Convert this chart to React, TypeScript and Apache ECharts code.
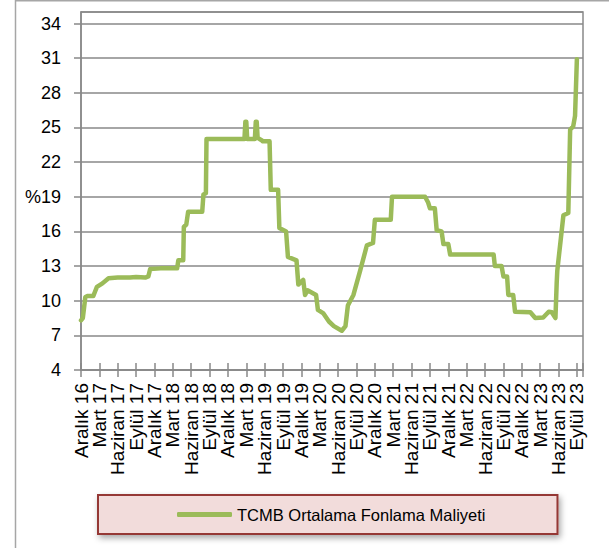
import React, { useEffect, useRef } from "react";
import * as echarts from "echarts";

// Month index: 0 = Aralık 2016 (December 2016)
const months: number[] = [
  0, 0.3, 0.5, 0.7, 1.0, 2.0, 2.3, 2.6, 3.5, 4.5, 6, 8, 9, 10.5, 11.0, 11.3, 13, 15.7, 15.9, 16.7,
  16.8, 17.2, 17.5, 19.8, 20.0, 20.4, 20.5, 23, 26.7, 26.85, 27.0, 27.15, 28.4, 28.55, 28.7, 28.85,
  29.5, 29.7, 30.8, 31.0, 32.2, 32.4, 33.5, 33.8, 35.2, 35.5, 36.3, 36.6, 37.0, 38.4, 38.7, 39.6,
  40.5, 41.3, 42.6, 43.2, 43.6, 44.0, 44.5, 45.6, 46.7, 47.7, 48.0, 50.6, 50.8, 56.2, 56.7, 57.0,
  57.8, 58.1, 58.9, 59.2, 60.0, 60.3, 67.4, 67.6, 68.7, 69.0, 69.6, 69.8, 70.6, 70.9, 73.4, 74.2,
  75.5, 76.4, 76.9, 77.5, 77.7, 77.8, 78.3, 78.8, 79.6, 79.9, 80.4, 80.7, 81.0,
];
const fundingCost: number[] = [
  8.3, 8.5, 9.4, 10.3, 10.4, 10.4, 10.8, 11.2, 11.5, 11.95, 12.0, 12.0, 12.05, 12.0, 12.1, 12.75, 12.8, 12.8, 13.5, 13.5,
  16.4, 16.6, 17.7, 17.7, 19.2, 19.3, 24.0, 24.0, 24.0, 25.5, 25.5, 24.0, 24.0, 25.5, 25.5, 24.1,
  23.9, 23.8, 23.8, 19.6, 19.6, 16.3, 16.0, 13.8, 13.5, 11.4, 11.8, 10.5, 10.9, 10.5, 9.2, 8.9,
  8.2, 7.8, 7.4, 7.8, 9.6, 10.0, 10.5, 12.6, 14.8, 15.0, 17.0, 17.0, 19.0, 19.0, 18.5, 18.0,
  18.0, 16.1, 16.0, 14.9, 14.9, 14.0, 14.0, 13.0, 13.0, 12.1, 12.1, 10.5, 10.5, 9.05, 9.0, 8.5,
  8.55, 9.05, 9.0, 8.5, 11.5, 12.6, 15.0, 17.4, 17.6, 24.8, 25.1, 26.0, 30.9,
];
const quarterLabels: string[] = [
  "Aralık 16", "Mart 17", "Haziran 17", "Eylül 17",
  "Aralık 17", "Mart 18", "Haziran 18", "Eylül 18",
  "Aralık 18", "Mart 19", "Haziran 19", "Eylül 19",
  "Aralık 19", "Mart 20", "Haziran 20", "Eylül 20",
  "Aralık 20", "Mart 21", "Haziran 21", "Eylül 21",
  "Aralık 21", "Mart 22", "Haziran 22", "Eylül 22",
  "Aralık 22", "Mart 23", "Haziran 23", "Eylül 23",
];
const seriesName = "TCMB Ortalama Fonlama Maliyeti";

const FONT = "'Liberation Sans', Arial, sans-serif";
const GRID_COLOR = "#898989";
const LINE_COLOR = "#9bbb59";

const X_MIN = 0;
const X_MAX = 82;
const X_STEP = 3;
const PLOT_LEFT = 81;
const PLOT_RIGHT = 26;
const PLOT_TOP = 12;
const PLOT_BOTTOM = 178;

export default function App() {
  const ref = useRef<HTMLDivElement>(null);
  useEffect(() => {
    if (!ref.current) return;
    const chart = echarts.init(ref.current, null, { renderer: "svg" });
    const plotWidth = 609 - PLOT_LEFT - PLOT_RIGHT;
    const pxPerMonth = plotWidth / (X_MAX - X_MIN);
    const xLabel = (v: number) => {
      const r = Math.round(v);
      if (r < 0 || r % X_STEP !== 0) return "";
      const l = quarterLabels[r / X_STEP];
      return l ?? "";
    };
    chart.setOption({
      animation: false,
      backgroundColor: "#ffffff",
      textStyle: { fontFamily: FONT },
      grid: [
        {
          left: PLOT_LEFT,
          right: PLOT_RIGHT,
          top: PLOT_TOP,
          bottom: PLOT_BOTTOM,
          show: true,
          borderColor: GRID_COLOR,
          borderWidth: 1.5,
        },
        {
          // label-carrying grid: one step wider on the left so every quarter label is a middle label
          left: PLOT_LEFT - X_STEP * pxPerMonth,
          right: PLOT_RIGHT,
          top: PLOT_TOP,
          bottom: PLOT_BOTTOM,
          show: false,
        },
      ],
      xAxis: [
        {
          gridIndex: 0,
          type: "value",
          min: X_MIN,
          max: X_MAX,
          interval: X_STEP,
          position: "bottom",
          axisLine: { show: true, lineStyle: { color: GRID_COLOR, width: 1.5 } },
          axisTick: { show: true, inside: false, length: 7, lineStyle: { color: GRID_COLOR, width: 1.5 } },
          splitLine: { show: false },
          axisLabel: { show: false },
        },
        {
          gridIndex: 0,
          type: "value",
          min: X_MIN,
          max: X_MAX,
          interval: X_STEP,
          position: "bottom",
          axisLine: { show: false },
          axisTick: { show: true, inside: true, length: 7, lineStyle: { color: GRID_COLOR, width: 1.5 } },
          splitLine: { show: false },
          axisLabel: { show: false },
        },
        {
          gridIndex: 1,
          type: "value",
          min: X_MIN - X_STEP,
          max: X_MAX,
          interval: X_STEP,
          position: "bottom",
          axisLine: { show: false },
          axisTick: { show: false },
          splitLine: { show: false },
          axisLabel: {
            rotate: 90,
            margin: 13,
            fontSize: 19,
            color: "#000",
            fontFamily: FONT,
            showMinLabel: false,
            showMaxLabel: false,
            hideOverlap: false,
            formatter: xLabel,
          },
        },
      ],
      yAxis: [
        {
          gridIndex: 0,
          type: "value",
          min: 4,
          max: 35,
          interval: 3,
          axisLine: { show: true, lineStyle: { color: GRID_COLOR, width: 1.5 } },
          axisTick: { show: true, inside: false, length: 7, lineStyle: { color: GRID_COLOR, width: 1.5 } },
          splitLine: { show: true, lineStyle: { color: GRID_COLOR, width: 1.5 } },
          axisLabel: {
            margin: 20,
            fontSize: 18,
            color: "#000",
            fontFamily: FONT,
            showMinLabel: true,
            showMaxLabel: false,
            formatter: (v: number) => (v === 19 ? "%19" : String(v)),
          },
        },
        {
          gridIndex: 1,
          type: "value",
          min: 4,
          max: 35,
          show: false,
        },
      ],
      legend: {
        show: true,
        left: 98,
        top: 495,
        padding: [11, 72, 11, 79],
        itemWidth: 55,
        itemHeight: 5,
        itemGap: 4,
        backgroundColor: "#f2dcdb",
        borderColor: "#953735",
        borderWidth: 2,
        shadowBlur: 6,
        shadowColor: "rgba(0,0,0,0.35)",
        shadowOffsetX: 2,
        shadowOffsetY: 3,
        textStyle: { fontSize: 16.5, color: "#000", fontFamily: FONT, lineHeight: 16 },
        data: [{ name: seriesName, icon: "roundRect", itemStyle: { color: LINE_COLOR } }],
      },
      graphic: [
        {
          type: "line",
          shape: { x1: 15.5, y1: 0, x2: 15.5, y2: 548 },
          style: { stroke: "#a6a6a6", lineWidth: 1.5 },
          silent: true,
        },
        {
          type: "line",
          shape: { x1: 15.5, y1: 0.75, x2: 609, y2: 0.75 },
          style: { stroke: "#a6a6a6", lineWidth: 1.5 },
          silent: true,
        },
      ],
      series: [
        {
          name: seriesName,
          type: "line",
          xAxisIndex: 0,
          yAxisIndex: 0,
          symbol: "none",
          lineStyle: { color: LINE_COLOR, width: 4.5, join: "round", cap: "round" },
          itemStyle: { color: LINE_COLOR },
          data: months.map((m, i) => [m, fundingCost[i]]),
        },
      ],
    });
    return () => chart.dispose();
  }, []);
  return (
    <div
      ref={ref}
      style={{ position: "absolute", left: 0, top: 0, width: 609, height: 548 }}
    />
  );
}
